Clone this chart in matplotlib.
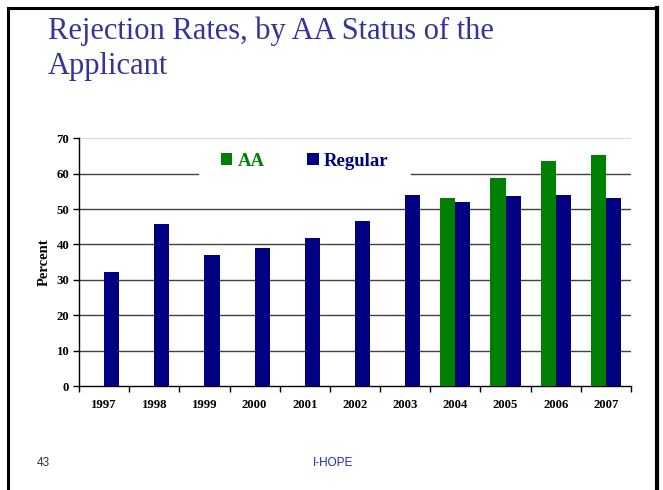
import numpy as np
import matplotlib
matplotlib.use("Agg")
import matplotlib.pyplot as plt
from matplotlib.lines import Line2D

years = ["1997", "1998", "1999", "2000", "2001", "2002", "2003", "2004", "2005", "2006", "2007"]
aa = [np.nan, np.nan, np.nan, np.nan, np.nan, np.nan, np.nan, 53.2, 58.8, 63.7, 65.4]
regular = [32.2, 45.9, 37.1, 39.0, 41.9, 46.6, 53.9, 52.1, 53.6, 53.9, 53.1]

GREEN = "#008000"
NAVY = "#000080"
SERIF = ["Liberation Serif", "DejaVu Serif"]
SANS = ["Liberation Sans", "DejaVu Sans"]

fig = plt.figure(figsize=(6.63, 4.90), dpi=100)
W, H = 663, 490

# slide border
fig.add_artist(Line2D([7.5 / W, 7.5 / W], [0, 1 - 8 / H], transform=fig.transFigure, color="black", lw=2.2))
fig.add_artist(Line2D([7.5 / W, 656.5 / W], [1 - 8 / H, 1 - 8 / H], transform=fig.transFigure, color="black", lw=2.2))
fig.add_artist(Line2D([656.5 / W, 656.5 / W], [0, 1 - 8 / H], transform=fig.transFigure, color="black", lw=3))

# title
fig.text(48 / W, 1 - 31 / H, "Rejection Rates, by AA Status of the", family=SERIF, fontsize=22,
         color="#333399", ha="left", va="center")
fig.text(48 / W, 1 - 66 / H, "Applicant", family=SERIF, fontsize=22,
         color="#333399", ha="left", va="center")

# footer
fig.text(37 / W, 1 - 463 / H, "43", family=SANS, fontsize=8.5, color="#333333", ha="left", va="center")
fig.text(333 / W, 1 - 463 / H, "I-HOPE", family=SANS, fontsize=8.5, color="#2222bb", ha="center", va="center")

AX_L, AX_R, AX_T, AX_B = 79, 631, 138.3, 386
ax = fig.add_axes([AX_L / W, 1 - AX_B / H, (AX_R - AX_L) / W, (AX_B - AX_T) / H])
x = np.arange(len(years))
w = 0.3
ax.bar(x - w / 2, aa, width=w, color=GREEN, label="AA", zorder=3)
ax.bar(x + w / 2, regular, width=w, color=NAVY, label="Regular", zorder=3)

ax.set_xlim(-0.5, len(years) - 0.5)
ax.set_ylim(0, 70)
ax.set_yticks(np.arange(0, 71, 10))
ax.set_xticks(x)
ax.set_xticklabels(years)
ax.set_xticks(np.arange(-0.5, len(years), 1), minor=True)
ax.tick_params(axis="x", which="major", length=0, pad=9)
ax.tick_params(axis="x", which="minor", length=4, width=1, direction="out")
ax.tick_params(axis="y", length=4, width=1, direction="out", pad=3)
for lab in ax.get_xticklabels() + ax.get_yticklabels():
    lab.set_family(SERIF)
    lab.set_fontweight("bold")
    lab.set_fontsize(9.2)

for v in range(10, 60, 10):
    ax.axhline(v, color="#404040", lw=1, zorder=1)
# 60 gridline interrupted by the legend box
gap_l = (198 - AX_L) / (AX_R - AX_L)
gap_r = (411 - AX_L) / (AX_R - AX_L)
ax.axhline(60, xmax=gap_l, color="#404040", lw=1, zorder=1)
ax.axhline(60, xmin=gap_r, color="#404040", lw=1, zorder=1)
ax.axhline(70, color="#d0d0d0", lw=1.2, zorder=1)

for s in ["top", "right"]:
    ax.spines[s].set_visible(False)
ax.spines["left"].set_linewidth(1)
ax.spines["bottom"].set_linewidth(1)

ax.set_ylabel("Percent", family=SERIF, fontweight="bold", fontsize=10.5, labelpad=4)

leg = ax.legend(loc="center", bbox_to_anchor=((305 - AX_L) / (AX_R - AX_L), (AX_B - 161) / (AX_B - AX_T)),
                ncol=2, frameon=False, handlelength=0.6, handleheight=0.6, handletextpad=0.3,
                columnspacing=2.25, borderpad=0.3, borderaxespad=0,
                prop={"family": SERIF, "weight": "bold", "size": 13.5})
leg.set_zorder(5)
leg.get_texts()[0].set_color(GREEN)
leg.get_texts()[1].set_color(NAVY)

fig.savefig("out.png", dpi=100)
